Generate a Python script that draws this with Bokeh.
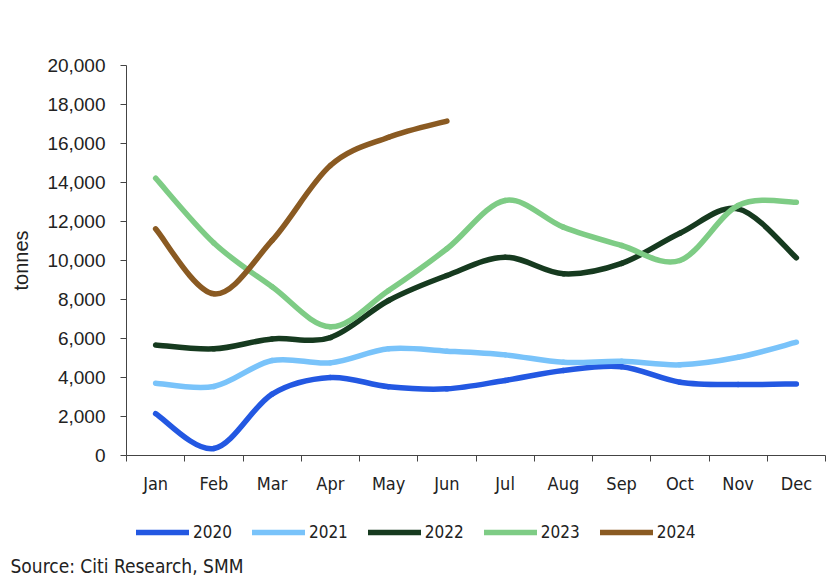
from bokeh.plotting import figure
from bokeh.models import (FixedTicker, Legend, LegendItem, Label, Range1d,
                          NumeralTickFormatter, ColumnDataSource)
from bokeh.embed import file_html
from bokeh.resources import INLINE

# Monthly volumes, tonnes
months = ["Jan", "Feb", "Mar", "Apr", "May", "Jun",
          "Jul", "Aug", "Sep", "Oct", "Nov", "Dec"]
y2020 = [2150, 360, 3150, 4000, 3530, 3420, 3850, 4360, 4550, 3760, 3640, 3670]
y2021 = [3710, 3540, 4870, 4750, 5470, 5350, 5160, 4780, 4830, 4650, 5040, 5810]
y2022 = [5670, 5470, 5980, 6050, 7950, 9230, 10170, 9320, 9850, 11400, 12650, 10140]
y2023 = [14220, 10900, 8650, 6600, 8460, 10600, 13080, 11710, 10770, 10000, 12820, 12990]
y2024 = [11620, 8290, 11030, 14870, 16320, 17150]

series = [
    ("2020", y2020, "#2358E2"),
    ("2021", y2021, "#79C3FA"),
    ("2022", y2022, "#163A1F"),
    ("2023", y2023, "#7ECC85"),
    ("2024", y2024, "#8A5A22"),
]

TICK_FONT = "Liberation Sans"
NARROW_FONT = "DejaVu Sans Condensed"
TEXT_COLOR = "#222222"
AXIS_COLOR = "#444444"
LINE_WIDTH = 5.5


def smooth_segments(vals):
    """Cubic Bezier segments (Catmull-Rom style) through the monthly points."""
    xs = list(range(len(vals)))
    n = len(vals)
    seg = dict(x0=[], y0=[], x1=[], y1=[], cx0=[], cy0=[], cx1=[], cy1=[])
    for i in range(n - 1):
        a = max(i - 1, 0)
        b = min(i + 2, n - 1)
        seg["x0"].append(xs[i])
        seg["y0"].append(vals[i])
        seg["x1"].append(xs[i + 1])
        seg["y1"].append(vals[i + 1])
        seg["cx0"].append(xs[i] + (xs[i + 1] - xs[a]) / 6)
        seg["cy0"].append(vals[i] + (vals[i + 1] - vals[a]) / 6)
        seg["cx1"].append(xs[i + 1] - (xs[b] - xs[i]) / 6)
        seg["cy1"].append(vals[i + 1] - (vals[b] - vals[i]) / 6)
    return ColumnDataSource(seg)


# ---- main chart ----
p = figure(width=832, height=500,
           x_range=Range1d(-0.5, len(months) - 0.5),
           y_range=Range1d(0, 20000),
           output_backend="svg", toolbar_location=None,
           min_border_left=126, min_border_right=7,
           min_border_top=65, min_border_bottom=45)

p.outline_line_color = None
p.xgrid.visible = False
p.ygrid.visible = False

# y axis
p.yaxis.ticker = FixedTicker(ticks=list(range(0, 20001, 2000)))
p.yaxis.formatter = NumeralTickFormatter(format="0,0")
p.yaxis.axis_label = "tonnes"
p.yaxis.axis_label_text_font = TICK_FONT
p.yaxis.axis_label_text_font_size = "20px"
p.yaxis.axis_label_text_font_style = "normal"
p.yaxis.axis_label_text_color = TEXT_COLOR
p.yaxis.axis_label_standoff = 12
p.yaxis.major_label_text_font = TICK_FONT
p.yaxis.major_label_text_font_size = "19px"
p.yaxis.major_label_text_color = TEXT_COLOR
p.yaxis.major_label_standoff = 15
p.yaxis.major_tick_out = 6
p.yaxis.major_tick_in = 0
p.yaxis.minor_tick_line_color = None
p.yaxis.axis_line_color = AXIS_COLOR
p.yaxis.major_tick_line_color = AXIS_COLOR

# x axis: labels at month centres, tick marks on month boundaries
p.xaxis.ticker = FixedTicker(ticks=list(range(len(months))),
                             minor_ticks=[i - 0.5 for i in range(len(months) + 1)])
p.xaxis.major_label_overrides = {i: m for i, m in enumerate(months)}
p.xaxis.major_tick_line_color = None
p.xaxis.major_tick_out = 0
p.xaxis.major_tick_in = 0
p.xaxis.minor_tick_out = 6
p.xaxis.minor_tick_in = 0
p.xaxis.minor_tick_line_color = AXIS_COLOR
p.xaxis.axis_line_color = AXIS_COLOR
p.xaxis.major_label_text_font = NARROW_FONT
p.xaxis.major_label_text_font_size = "18px"
p.xaxis.major_label_text_color = TEXT_COLOR
p.xaxis.major_label_standoff = 11

for name, vals, color in series:
    p.bezier(x0="x0", y0="y0", x1="x1", y1="y1",
             cx0="cx0", cy0="cy0", cx1="cx1", cy1="cy1",
             source=smooth_segments(vals),
             line_color=color, line_width=LINE_WIDTH, line_cap="round")

# ---- footer: legend and source note ----
f = figure(width=832, height=80, x_range=Range1d(0, 1), y_range=Range1d(0, 1),
           x_axis_location=None, y_axis_location=None,
           output_backend="svg", toolbar_location=None,
           min_border=0, min_border_left=0, min_border_right=0,
           min_border_top=0, min_border_bottom=0)
f.grid.visible = False
f.outline_line_color = None

nan = float("nan")
items = []
for name, vals, color in series:
    # legend key only: a line with no drawable point
    key = f.line(x=[nan], y=[nan], line_color=color, line_width=LINE_WIDTH,
                 line_cap="round")
    items.append(LegendItem(label=name, renderers=[key]))

legend = Legend(items=items, orientation="horizontal", location=(136, 38),
                glyph_width=53, glyph_height=20, label_standoff=4, spacing=20,
                label_text_font=NARROW_FONT, label_text_font_size="17px",
                label_text_color=TEXT_COLOR, border_line_color=None,
                background_fill_alpha=0, padding=4, margin=0)
f.add_layout(legend)

source_note = Label(x=10, y=15, x_units="screen", y_units="screen",
                    text="Source: Citi Research, SMM", text_baseline="middle",
                    text_font=NARROW_FONT, text_font_size="19px",
                    text_color=TEXT_COLOR)
f.add_layout(source_note)

# two independent roots, stacked on the page
open("out.html", "w").write(file_html([p, f], INLINE))
